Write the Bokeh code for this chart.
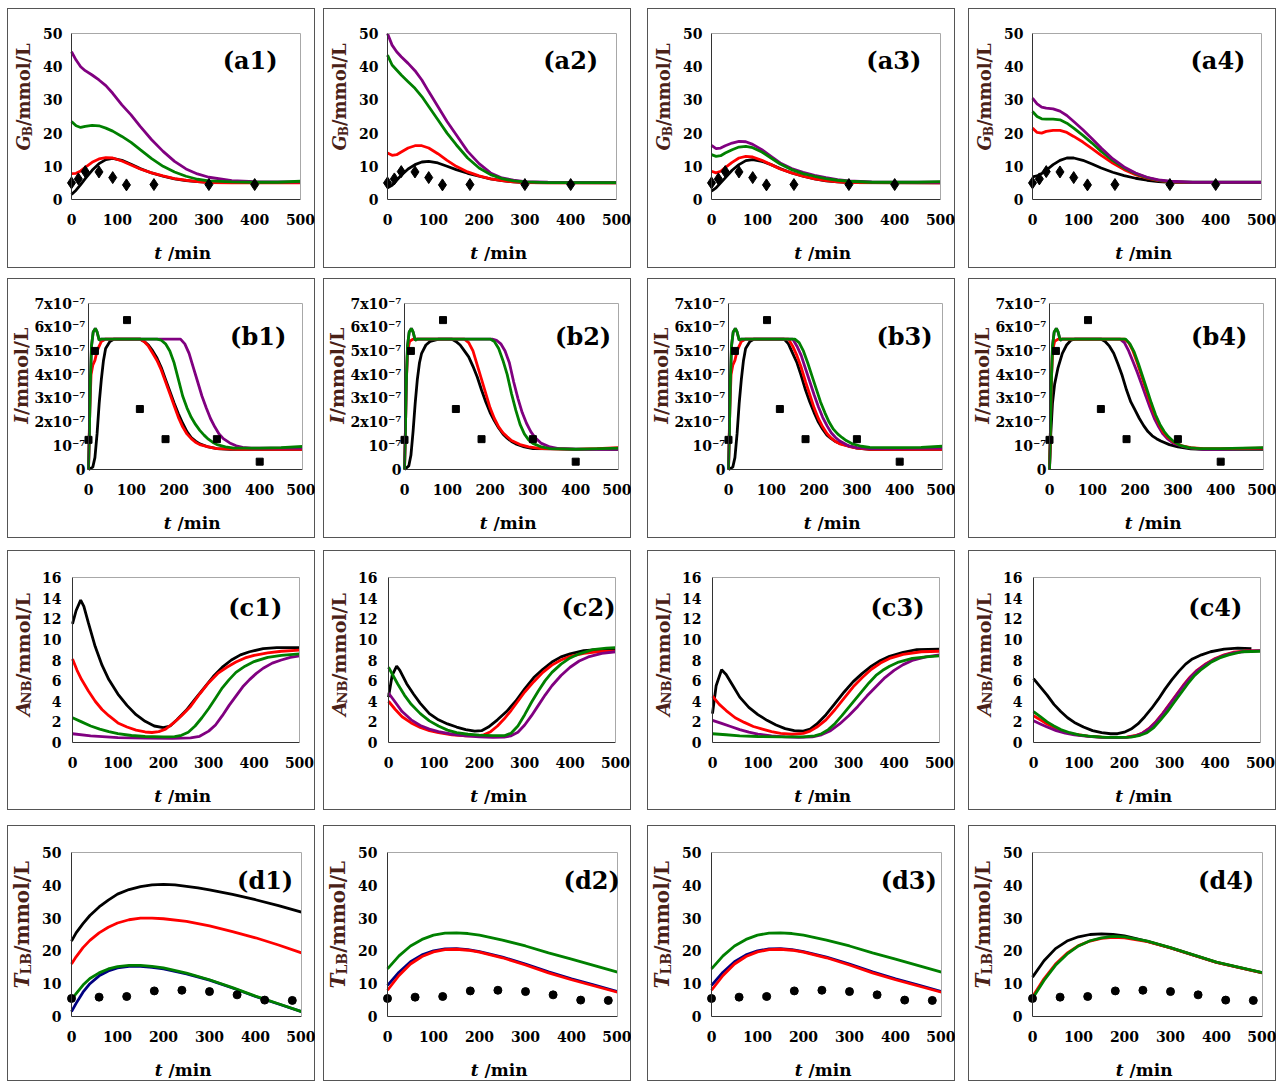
from math import pi
from bokeh.plotting import figure
from bokeh.layouts import column, row
from bokeh.models import Label, FixedTicker, Range1d, LinearAxis
from bokeh.embed import file_html
from bokeh.resources import INLINE

# ------------------------------------------------------------------ data
x_ticks = [0, 100, 200, 300, 400, 500]

# experimental points
glucose_t = [0, 15, 30, 60, 90, 120, 180, 300, 400]
glucose_obs = [5.0, 6.2, 8.4, 8.3, 6.6, 4.4, 4.5, 4.5, 4.5]
insulin_t = [0, 15, 90, 120, 180, 300, 400]
insulin_obs = [1.25, 5.0, 6.3, 2.55, 1.28, 1.28, 0.33]      # units of 1e-7 mmol/L
tlb_t = [0, 60, 120, 180, 240, 300, 360, 420, 480]
tlb_obs = [5.5, 5.9, 6.1, 7.8, 8.0, 7.6, 6.6, 5.0, 4.9]

# ---- row a : G_B (mmol/L), curves as (t, value)
a1_black = [(0,1.5),(10,2.8),(20,4.5),(30,6.3),(45,8.8),(60,10.8),(75,12.0),(90,12.4),(110,11.8),(130,10.6),(150,9.3),(175,8.0),(200,7.0),(225,6.2),(250,5.7),(275,5.4),(300,5.2),(350,5.1),(500,5.1)]
a1_red = [(0,7.8),(10,7.9),(20,8.6),(30,9.7),(45,11.2),(60,12.2),(75,12.6),(90,12.5),(110,11.6),(130,10.4),(150,9.2),(175,8.0),(200,7.1),(225,6.3),(250,5.8),(275,5.4),(300,5.1),(350,5.0),(500,5.0)]
a1_purple = [(0,44.5),(10,42.0),(20,40.0),(30,38.8),(45,37.5),(60,36.0),(75,34.3),(90,32.0),(110,28.5),(130,25.5),(150,22.0),(175,18.0),(200,14.5),(225,11.5),(250,9.2),(275,7.7),(300,6.7),(350,5.7),(400,5.4),(500,5.3)]
a1_green = [(0,23.5),(10,22.2),(20,21.7),(30,22.0),(45,22.3),(60,22.2),(75,21.5),(90,20.6),(110,19.0),(130,17.2),(150,15.0),(175,12.3),(200,10.0),(225,8.3),(250,7.0),(275,6.1),(300,5.6),(350,5.3),(400,5.2),(450,5.2),(500,5.5)]

a2_black = [(0,3.5),(10,4.3),(20,5.8),(30,7.3),(45,9.2),(60,10.5),(75,11.3),(90,11.5),(110,11.0),(130,10.0),(150,9.0),(175,7.9),(200,7.0),(225,6.2),(250,5.7),(275,5.3),(300,5.1),(500,5.0)]
a2_red = [(0,14.0),(10,13.3),(20,13.5),(30,14.3),(45,15.5),(60,16.2),(75,16.2),(90,15.5),(110,13.8),(130,11.8),(150,10.0),(175,8.3),(200,7.1),(225,6.2),(250,5.7),(275,5.3),(300,5.1),(350,5.0),(500,5.0)]
a2_purple = [(0,50.0),(10,46.5),(20,44.5),(30,43.0),(45,41.0),(60,38.8),(75,36.0),(90,32.5),(110,28.0),(130,23.5),(150,19.5),(175,14.5),(200,10.8),(225,8.0),(250,6.5),(275,5.8),(300,5.4),(350,5.2),(500,5.1)]
a2_green = [(0,43.5),(10,40.5),(20,39.0),(30,37.5),(45,35.5),(60,33.5),(75,31.0),(90,28.0),(110,24.0),(130,20.0),(150,16.5),(175,12.5),(200,9.5),(225,7.5),(250,6.3),(275,5.6),(300,5.3),(350,5.1),(500,5.1)]

a3_black = [(0,2.5),(10,3.5),(20,5.0),(30,6.5),(45,8.8),(60,10.5),(75,11.7),(90,12.0),(110,11.5),(130,10.5),(150,9.3),(175,8.0),(200,7.0),(225,6.2),(250,5.6),(275,5.3),(300,5.1),(500,5.0)]
a3_red = [(0,8.5),(10,8.0),(20,8.5),(30,9.6),(45,11.2),(60,12.5),(75,13.0),(90,12.8),(110,11.8),(130,10.5),(150,9.2),(175,8.0),(200,7.0),(225,6.2),(250,5.7),(275,5.3),(300,5.1),(500,5.0)]
a3_purple = [(0,16.3),(10,15.3),(20,15.5),(30,16.2),(45,17.0),(60,17.5),(75,17.4),(90,16.6),(110,15.0),(130,13.0),(150,11.0),(175,9.3),(200,8.2),(225,7.3),(250,6.6),(275,6.0),(300,5.6),(350,5.3),(500,5.2)]
a3_green = [(0,13.5),(10,13.0),(20,13.2),(30,14.0),(45,15.0),(60,15.8),(75,16.0),(90,15.6),(110,14.3),(130,12.5),(150,10.7),(175,9.0),(200,7.8),(225,7.0),(250,6.3),(275,5.8),(300,5.5),(350,5.2),(450,5.2),(500,5.4)]

a4_black = [(0,6.8),(10,7.1),(20,7.8),(30,8.8),(45,10.5),(60,11.8),(75,12.5),(90,12.5),(110,11.8),(130,10.7),(150,9.5),(175,8.2),(200,7.2),(225,6.4),(250,5.8),(275,5.4),(300,5.2),(500,5.1)]
a4_red = [(0,21.5),(10,20.2),(20,20.0),(30,20.5),(45,20.8),(60,20.8),(75,20.2),(90,19.0),(110,17.3),(130,15.3),(150,13.3),(175,11.0),(200,9.0),(225,7.5),(250,6.4),(275,5.7),(300,5.3),(350,5.1),(500,5.1)]
a4_purple = [(0,30.5),(10,28.8),(20,27.8),(30,27.5),(45,27.3),(60,26.6),(75,25.3),(90,23.5),(110,21.0),(130,18.3),(150,15.5),(175,12.3),(200,9.8),(225,8.0),(250,6.7),(275,5.9),(300,5.5),(350,5.2),(500,5.2)]
a4_green = [(0,26.5),(10,25.0),(20,24.3),(30,24.2),(45,24.2),(60,24.0),(75,23.0),(90,21.5),(110,19.3),(130,17.0),(150,14.5),(175,11.8),(200,9.5),(225,7.8),(250,6.6),(275,5.8),(300,5.4),(350,5.2),(500,5.2)]

# ---- row b : I (units of 1e-7 mmol/L)
b1_black = [(0,0),(10,0.1),(15,0.5),(20,1.5),(25,2.8),(30,3.8),(35,4.6),(40,5.1),(50,5.4),(60,5.5),(120,5.5),(130,5.4),(140,5.25),(150,5.0),(160,4.7),(170,4.3),(180,3.8),(190,3.3),(200,2.8),(210,2.35),(220,1.95),(230,1.6),(240,1.35),(250,1.2),(260,1.08),(280,0.95),(300,0.88),(330,0.85),(500,0.85)]
b1_red = [(0,0),(3,2.5),(6,4.0),(10,4.4),(15,4.6),(20,5.0),(30,5.4),(40,5.5),(120,5.5),(130,5.4),(140,5.2),(150,4.9),(160,4.6),(170,4.2),(180,3.7),(190,3.2),(200,2.7),(210,2.2),(220,1.8),(230,1.5),(240,1.3),(250,1.15),(260,1.05),(280,0.95),(300,0.88),(350,0.85),(500,0.85)]
b1_purple = [(0,0),(2,1.5),(4,3.5),(7,5.2),(11,5.8),(16,5.95),(20,5.8),(25,5.45),(30,5.5),(215,5.5),(225,5.3),(235,4.9),(245,4.3),(255,3.7),(265,3.1),(275,2.6),(285,2.15),(295,1.8),(305,1.5),(315,1.3),(330,1.12),(345,1.0),(360,0.93),(380,0.9),(500,0.9)]
b1_green = [(0,0),(2,1.5),(4,3.5),(7,5.2),(11,5.8),(16,5.95),(20,5.8),(25,5.45),(30,5.5),(160,5.5),(170,5.45),(180,5.3),(190,5.0),(200,4.5),(210,3.8),(220,3.1),(230,2.6),(240,2.2),(250,1.9),(260,1.65),(270,1.45),(280,1.28),(290,1.15),(300,1.05),(320,0.95),(340,0.9),(400,0.9),(450,0.92),(500,0.97)]

b2_black = [(0,0),(10,0.15),(15,0.6),(20,1.6),(25,2.8),(30,3.8),(35,4.5),(40,4.9),(50,5.25),(60,5.4),(80,5.5),(110,5.5),(120,5.4),(130,5.25),(140,5.0),(150,4.75),(160,4.35),(170,3.9),(180,3.35),(190,2.85),(200,2.4),(210,2.05),(220,1.75),(230,1.5),(240,1.32),(250,1.18),(260,1.08),(280,0.95),(300,0.88),(500,0.85)]
b2_red = [(0,0),(2,1.5),(4,3.5),(7,5.0),(12,5.4),(20,5.5),(140,5.5),(150,5.35),(160,5.0),(170,4.4),(180,3.8),(190,3.2),(200,2.6),(210,2.15),(220,1.8),(230,1.55),(240,1.38),(250,1.22),(270,1.05),(290,0.95),(320,0.88),(400,0.85),(450,0.88),(500,0.92)]
b2_purple = [(0,0),(2,1.5),(4,3.5),(7,5.2),(11,5.8),(16,5.95),(20,5.8),(25,5.45),(30,5.5),(205,5.5),(215,5.45),(225,5.3),(235,5.0),(245,4.5),(255,3.7),(265,3.0),(275,2.4),(285,1.95),(295,1.6),(305,1.35),(320,1.1),(340,0.95),(360,0.88),(400,0.85),(500,0.85)]
b2_green = [(0,0),(2,1.5),(4,3.5),(7,5.2),(11,5.8),(16,5.95),(20,5.8),(25,5.45),(30,5.5),(200,5.5),(210,5.4),(220,5.1),(230,4.6),(240,4.0),(250,3.2),(260,2.5),(270,1.9),(280,1.5),(290,1.25),(300,1.1),(320,0.95),(340,0.88),(400,0.85),(500,0.9)]

b3_black = [(0,0),(10,0.1),(15,0.5),(20,1.5),(25,2.8),(30,3.8),(35,4.6),(40,5.1),(50,5.4),(60,5.5),(130,5.5),(140,5.3),(150,4.9),(160,4.5),(170,3.95),(180,3.35),(190,2.85),(200,2.4),(210,2.0),(220,1.7),(230,1.45),(240,1.3),(250,1.18),(260,1.1),(280,1.0),(300,0.9),(330,0.85),(500,0.85)]
b3_red = [(0,0),(3,2.5),(6,4.0),(10,4.4),(15,4.6),(20,5.0),(30,5.4),(40,5.5),(140,5.5),(150,5.2),(160,4.8),(170,4.3),(180,3.7),(190,3.15),(200,2.6),(210,2.15),(220,1.8),(230,1.52),(240,1.32),(250,1.18),(260,1.08),(280,0.98),(300,0.9),(330,0.85),(500,0.85)]
b3_purple = [(0,0),(2,1.5),(4,3.5),(7,5.2),(11,5.8),(16,5.95),(20,5.8),(25,5.45),(30,5.5),(150,5.5),(160,5.2),(170,4.8),(180,4.25),(190,3.7),(200,3.15),(210,2.65),(220,2.2),(230,1.85),(240,1.55),(250,1.35),(260,1.2),(280,1.0),(300,0.92),(330,0.88),(500,0.9)]
b3_green = [(0,0),(2,1.5),(4,3.5),(7,5.2),(11,5.8),(16,5.95),(20,5.8),(25,5.45),(30,5.5),(155,5.5),(165,5.35),(175,5.0),(185,4.5),(195,3.95),(205,3.4),(215,2.85),(225,2.4),(235,2.0),(245,1.7),(255,1.5),(265,1.35),(275,1.22),(290,1.08),(310,0.98),(330,0.93),(400,0.92),(450,0.93),(500,0.98)]

b4_black = [(0,0),(3,1.5),(7,2.8),(12,3.6),(20,4.3),(30,4.9),(40,5.25),(50,5.45),(60,5.5),(120,5.5),(130,5.4),(140,5.2),(150,4.9),(160,4.45),(170,3.95),(180,3.35),(190,2.85),(200,2.5),(210,2.15),(220,1.85),(230,1.6),(240,1.42),(250,1.3),(260,1.2),(280,1.05),(300,0.95),(330,0.87),(360,0.85),(500,0.85)]
b4_red = [(0,0),(2,1.5),(4,3.5),(7,5.0),(12,5.4),(20,5.5),(175,5.5),(185,5.35),(195,5.0),(205,4.5),(215,3.95),(225,3.4),(235,2.85),(245,2.35),(255,1.95),(265,1.6),(275,1.38),(290,1.15),(310,1.0),(330,0.92),(360,0.88),(400,0.88),(500,0.9)]
b4_purple = [(0,0),(2,1.5),(4,3.5),(7,5.2),(11,5.8),(16,5.95),(20,5.8),(25,5.45),(30,5.5),(165,5.5),(175,5.35),(185,5.0),(195,4.55),(205,4.1),(215,3.6),(225,3.1),(235,2.6),(245,2.15),(255,1.8),(265,1.5),(275,1.3),(290,1.1),(310,0.98),(330,0.9),(360,0.85),(400,0.85),(500,0.9)]
b4_green = [(0,0),(2,1.5),(4,3.5),(7,5.2),(11,5.8),(16,5.95),(20,5.8),(25,5.45),(30,5.5),(178,5.5),(188,5.3),(198,4.95),(208,4.45),(218,3.9),(228,3.35),(238,2.8),(248,2.3),(258,1.9),(268,1.6),(278,1.38),(290,1.18),(305,1.02),(325,0.92),(350,0.88),(400,0.88),(450,0.9),(500,0.92)]

# ---- row c : A_NB (mmol/L)
c1_black = [(0,11.5),(8,12.8),(18,13.8),(25,13.2),(35,11.6),(50,9.3),(65,7.5),(80,6.1),(100,4.7),(120,3.6),(140,2.7),(160,2.05),(180,1.6),(200,1.45),(215,1.6),(230,2.2),(250,3.1),(270,4.2),(290,5.3),(310,6.4),(330,7.3),(350,8.0),(370,8.5),(390,8.8),(420,9.1),(450,9.2),(500,9.2)]
c1_red = [(0,8.1),(10,7.0),(20,6.1),(35,5.0),(50,4.0),(65,3.2),(80,2.6),(100,1.9),(120,1.5),(140,1.2),(160,1.02),(175,0.97),(190,1.05),(205,1.3),(220,1.8),(240,2.6),(260,3.5),(280,4.7),(300,5.8),(320,6.7),(340,7.3),(360,7.8),(380,8.2),(400,8.45),(430,8.7),(460,8.85),(500,8.95)]
c1_purple = [(0,0.85),(40,0.65),(100,0.48),(160,0.42),(220,0.4),(260,0.45),(280,0.6),(300,1.1),(315,1.7),(330,2.6),(345,3.6),(360,4.5),(375,5.4),(390,6.1),(405,6.7),(420,7.2),(440,7.7),(460,8.0),(480,8.25),(500,8.4)]
c1_green = [(0,2.4),(20,2.0),(40,1.6),(60,1.3),(80,1.05),(100,0.85),(130,0.68),(160,0.58),(200,0.55),(225,0.56),(240,0.7),(255,1.0),(270,1.6),(285,2.4),(300,3.3),(315,4.3),(330,5.3),(345,6.1),(360,6.8),(380,7.4),(400,7.85),(430,8.25),(460,8.45),(500,8.6)]

c2_black = [(0,4.4),(8,6.5),(18,7.4),(25,7.0),(40,5.7),(55,4.7),(70,3.8),(90,2.8),(110,2.2),(130,1.8),(150,1.5),(170,1.25),(190,1.1),(205,1.15),(220,1.5),(240,2.2),(260,3.0),(280,4.0),(300,5.2),(320,6.3),(340,7.1),(360,7.8),(380,8.3),(400,8.6),(430,8.9),(460,9.0),(500,9.0)]
c2_red = [(0,4.0),(15,3.2),(30,2.5),(50,1.9),(70,1.45),(90,1.15),(110,0.95),(140,0.75),(170,0.65),(195,0.65),(210,0.75),(225,1.05),(240,1.6),(255,2.3),(270,3.1),(285,4.0),(300,4.9),(320,5.9),(340,6.8),(360,7.5),(380,8.0),(400,8.35),(430,8.65),(460,8.8),(500,8.85)]
c2_purple = [(0,4.8),(15,3.9),(30,3.0),(50,2.2),(70,1.65),(90,1.3),(110,1.05),(140,0.8),(170,0.65),(200,0.55),(230,0.5),(255,0.52),(270,0.65),(285,1.0),(300,1.7),(315,2.6),(330,3.6),(345,4.6),(360,5.5),(380,6.5),(400,7.3),(420,7.9),(440,8.3),(470,8.65),(500,8.8)]
c2_green = [(0,7.3),(10,6.5),(20,5.7),(35,4.6),(50,3.7),(70,2.8),(90,2.1),(110,1.6),(130,1.2),(150,0.95),(175,0.8),(200,0.72),(230,0.66),(255,0.66),(270,0.9),(285,1.6),(300,2.7),(315,3.9),(330,5.0),(345,6.0),(360,6.8),(380,7.6),(400,8.2),(420,8.6),(450,9.0),(480,9.15),(500,9.2)]

c3_black = [(0,2.8),(8,5.5),(20,7.05),(30,6.6),(45,5.5),(60,4.4),(80,3.4),(100,2.7),(120,2.15),(140,1.7),(160,1.35),(180,1.15),(200,1.1),(215,1.3),(230,1.8),(250,2.7),(270,3.8),(290,4.9),(310,5.9),(330,6.7),(350,7.4),(370,7.95),(390,8.35),(420,8.75),(450,9.0),(500,9.05)]
c3_red = [(0,4.5),(15,3.7),(30,3.1),(50,2.4),(70,1.95),(90,1.55),(110,1.3),(130,1.05),(150,0.88),(175,0.8),(200,0.88),(215,1.1),(230,1.5),(250,2.2),(270,3.2),(290,4.3),(310,5.4),(330,6.3),(350,7.1),(370,7.7),(390,8.15),(420,8.55),(460,8.8),(500,8.85)]
c3_purple = [(0,2.15),(20,1.85),(40,1.55),(60,1.25),(80,1.0),(100,0.82),(130,0.65),(160,0.55),(190,0.5),(220,0.55),(240,0.75),(260,1.15),(280,1.8),(300,2.6),(320,3.5),(340,4.5),(360,5.4),(380,6.3),(400,7.0),(420,7.55),(440,7.95),(470,8.3),(500,8.5)]
c3_green = [(0,0.85),(30,0.75),(60,0.65),(100,0.58),(150,0.55),(200,0.55),(225,0.65),(240,0.85),(255,1.25),(270,1.85),(285,2.6),(300,3.4),(315,4.2),(330,5.0),(345,5.8),(360,6.5),(375,7.0),(390,7.4),(410,7.8),(440,8.15),(470,8.3),(500,8.4)]

c4_black = [(0,6.2),(15,5.4),(30,4.6),(45,3.7),(60,3.0),(75,2.4),(90,1.95),(110,1.5),(130,1.15),(150,0.95),(170,0.85),(185,0.85),(200,1.0),(215,1.3),(230,1.8),(245,2.5),(260,3.3),(275,4.2),(290,5.2),(305,6.1),(320,6.9),(335,7.6),(350,8.1),(370,8.5),(390,8.8),(420,9.05),(450,9.15),(480,9.1)]
c4_red = [(0,2.6),(15,2.2),(30,1.8),(50,1.35),(70,1.0),(90,0.8),(120,0.62),(150,0.52),(180,0.5),(205,0.52),(225,0.68),(240,0.92),(255,1.38),(270,2.05),(285,2.85),(300,3.75),(315,4.65),(330,5.55),(345,6.35),(360,7.0),(380,7.65),(400,8.15),(420,8.5),(440,8.75),(470,8.88),(500,8.9)]
c4_purple = [(0,2.1),(15,1.8),(30,1.5),(50,1.15),(70,0.9),(90,0.75),(120,0.6),(150,0.5),(180,0.48),(205,0.5),(225,0.65),(240,0.9),(255,1.35),(270,2.0),(285,2.8),(300,3.7),(315,4.6),(330,5.5),(345,6.3),(360,6.95),(380,7.6),(400,8.1),(420,8.45),(440,8.7),(470,8.85),(500,8.9)]
c4_green = [(0,3.0),(15,2.5),(30,2.0),(45,1.6),(60,1.25),(80,0.95),(100,0.75),(130,0.58),(160,0.5),(190,0.5),(215,0.52),(235,0.7),(250,0.95),(265,1.45),(280,2.2),(295,3.0),(310,3.9),(325,4.8),(340,5.7),(355,6.5),(370,7.1),(390,7.75),(410,8.2),(430,8.5),(460,8.8),(500,8.85)]

# ---- row d : T_LB (mmol/L)
d1_black = [(0,23.0),(10,25.5),(25,28.3),(40,30.8),(60,33.4),(80,35.5),(100,37.3),(125,38.7),(150,39.6),(175,40.1),(200,40.3),(225,40.1),(250,39.7),(275,39.2),(300,38.6),(350,37.2),(400,35.6),(450,33.8),(500,31.8)]
d1_red = [(0,16.0),(10,18.2),(25,21.0),(40,23.2),(60,25.5),(80,27.2),(100,28.5),(125,29.5),(150,30.0),(175,30.0),(200,29.8),(250,29.0),(300,27.6),(350,25.9),(400,24.0),(450,21.8),(500,19.4)]
d1_blue = [(0,1.5),(10,4.0),(25,7.4),(40,10.0),(60,12.4),(80,13.9),(100,14.8),(125,15.3),(150,15.3),(175,15.0),(200,14.5),(250,13.0),(300,11.1),(350,8.7),(400,6.1),(450,3.8),(500,1.5)]
d1_green = [(0,5.0),(10,7.0),(25,9.6),(40,11.6),(60,13.3),(80,14.5),(100,15.2),(125,15.6),(150,15.6),(175,15.3),(200,14.8),(250,13.2),(300,11.2),(350,8.8),(400,6.2),(450,3.9),(500,1.5)]

d2_blue = [(0,9.5),(25,13.5),(50,16.7),(75,18.8),(100,20.0),(125,20.6),(150,20.7),(175,20.4),(200,19.8),(250,18.1),(300,16.0),(350,13.6),(400,11.5),(450,9.6),(500,7.6)]
d2_red = [(0,8.0),(25,12.5),(50,16.0),(75,18.3),(100,19.7),(125,20.4),(150,20.5),(175,20.2),(200,19.6),(250,17.9),(300,15.7),(350,13.3),(400,11.2),(450,9.3),(500,7.4)]
d2_green = [(0,14.5),(25,18.5),(50,21.5),(75,23.5),(100,24.8),(125,25.4),(150,25.5),(175,25.3),(200,24.8),(250,23.3),(300,21.5),(350,19.4),(400,17.5),(450,15.5),(500,13.5)]

d3_blue = [(0,9.5),(25,13.5),(50,16.7),(75,18.8),(100,20.0),(125,20.6),(150,20.7),(175,20.4),(200,19.8),(250,18.1),(300,16.0),(350,13.6),(400,11.5),(450,9.6),(500,7.6)]
d3_red = [(0,8.0),(25,12.5),(50,16.0),(75,18.3),(100,19.7),(125,20.4),(150,20.5),(175,20.2),(200,19.6),(250,17.9),(300,15.7),(350,13.3),(400,11.2),(450,9.3),(500,7.4)]
d3_green = [(0,14.5),(25,18.5),(50,21.5),(75,23.5),(100,24.8),(125,25.4),(150,25.5),(175,25.3),(200,24.8),(250,23.3),(300,21.5),(350,19.4),(400,17.5),(450,15.5),(500,13.5)]

d4_black = [(0,12.0),(25,17.0),(50,20.7),(75,23.0),(100,24.3),(125,25.0),(150,25.2),(175,25.0),(200,24.6),(250,22.9),(300,20.9),(350,18.7),(400,16.5),(450,14.9),(500,13.3)]
d4_red = [(0,6.0),(25,11.5),(50,16.0),(75,19.3),(100,21.6),(125,23.0),(150,23.8),(175,24.1),(200,24.0),(250,22.8),(300,20.9),(350,18.7),(400,16.5),(450,14.9),(500,13.3)]
d4_green = [(0,5.5),(25,11.0),(50,15.6),(75,19.0),(100,21.5),(125,23.1),(150,24.0),(175,24.4),(200,24.3),(250,23.0),(300,21.0),(350,18.8),(400,16.6),(450,15.0),(500,13.4)]

panel_names = [["(a1)", "(a2)", "(a3)", "(a4)"],
               ["(b1)", "(b2)", "(b3)", "(b4)"],
               ["(c1)", "(c2)", "(c3)", "(c4)"],
               ["(d1)", "(d2)", "(d3)", "(d4)"]]

b_tick_labels = ["0", "10⁻⁷", "2x10⁻⁷", "3x10⁻⁷", "4x10⁻⁷", "5x10⁻⁷", "6x10⁻⁷", "7x10⁻⁷"]

# ------------------------------------------------------------------ styling / layout
BLACK, RED, GREEN, PURPLE, NAVY = "#000000", "#ff0000", "#008000", "#800080", "#000080"
FONT = "DejaVu Serif"
YLAB_COLOR = "#4a2117"

panel_curves = [
    [[(a1_black, BLACK), (a1_red, RED), (a1_purple, PURPLE), (a1_green, GREEN)],
     [(a2_black, BLACK), (a2_red, RED), (a2_purple, PURPLE), (a2_green, GREEN)],
     [(a3_black, BLACK), (a3_red, RED), (a3_purple, PURPLE), (a3_green, GREEN)],
     [(a4_black, BLACK), (a4_red, RED), (a4_green, GREEN), (a4_purple, PURPLE)]],
    [[(b1_black, BLACK), (b1_red, RED), (b1_purple, PURPLE), (b1_green, GREEN)],
     [(b2_black, BLACK), (b2_red, RED), (b2_purple, PURPLE), (b2_green, GREEN)],
     [(b3_black, BLACK), (b3_red, RED), (b3_purple, PURPLE), (b3_green, GREEN)],
     [(b4_black, BLACK), (b4_purple, PURPLE), (b4_red, RED), (b4_green, GREEN)]],
    [[(c1_black, BLACK), (c1_red, RED), (c1_purple, PURPLE), (c1_green, GREEN)],
     [(c2_black, BLACK), (c2_red, RED), (c2_purple, PURPLE), (c2_green, GREEN)],
     [(c3_black, BLACK), (c3_red, RED), (c3_purple, PURPLE), (c3_green, GREEN)],
     [(c4_black, BLACK), (c4_red, RED), (c4_purple, PURPLE), (c4_green, GREEN)]],
    [[(d1_black, BLACK), (d1_red, RED), (d1_blue, NAVY), (d1_green, GREEN)],
     [(d2_blue, NAVY), (d2_red, RED), (d2_green, GREEN)],
     [(d3_blue, NAVY), (d3_red, RED), (d3_green, GREEN)],
     [(d4_black, BLACK), (d4_red, RED), (d4_green, GREEN)]],
]

row_obs = [(glucose_t, glucose_obs, "diamond", 12),
           (insulin_t, insulin_obs, "square", 7),
           None,
           (tlb_t, tlb_obs, "circle", 8)]

ROWCFG = [
    dict(fig_h=260, top=25, fh=166, left=64, fw=229, ymax=50, yticks=[0, 10, 20, 30, 40, 50],
         ystand=9, ylab=("G", "B", "/mmol/L"), ylab_size=18, ylab_c=63, ylab_x=-48,
         lab_x=[450, 460, 458, 465], lab_y=46.3),
    dict(fig_h=260, top=25, fh=166, left=81, fw=214, ymax=7, yticks=list(range(8)),
         ystand=3, ylab=("I", "", "/mmol/L"), ylab_size=19, ylab_c=72, ylab_x=-68,
         lab_x=[462, 483, 477, 462], lab_y=6.2),
    dict(fig_h=260, top=27, fh=165, left=65, fw=227, ymax=16, yticks=list(range(0, 17, 2)),
         ystand=11, ylab=("A", "NB", "/mmol/L"), ylab_size=19, ylab_c=77, ylab_x=-50,
         lab_x=[462, 500, 467, 460], lab_y=14.5),
    dict(fig_h=256, top=27, fh=164, left=64, fw=230, ymax=50, yticks=[0, 10, 20, 30, 40, 50],
         ystand=10, ylab=("T", "LB", "/mmol/L"), ylab_size=20, ylab_c=72, ylab_x=-50,
         lab_x=[482, 505, 490, 482], lab_y=46.0),
]
FIG_W = 308
ROW_MARGIN = [8, 10, 12, 15]
COL_MARGIN = [7, 8, 16, 13]

BW = {"/": 0.365, "m": 1.042, "o": 0.687, "l": 0.371, "L": 0.733, "B": 0.759, "N": 0.843,
      "G": 0.82, "A": 0.77, "T": 0.73, "I": 0.45, " ": 0.348, "i": 0.371, "n": 0.712, "t": 0.48}


def tw(s, size):
    return sum(BW.get(ch, 0.7) for ch in s) * size


def styled_axis(ax, visible_labels=True):
    ax.axis_line_width = 1
    ax.major_tick_in = 0
    ax.major_tick_out = 0
    ax.minor_tick_line_color = None
    ax.major_label_text_font = FONT
    ax.major_label_text_font_style = "bold"
    ax.major_label_text_font_size = "14px" if visible_labels else "0px"
    ax.major_label_text_color = "black"


def make_panel(r, c):
    cfg = ROWCFG[r]
    ymax = cfg["ymax"]
    fh, fw = cfg["fh"], cfg["fw"]
    left, top, H = cfg["left"], cfg["top"], cfg["fig_h"]
    kx = 500.0 / fw          # data per pixel (x)
    ky = ymax / fh           # data per pixel (y)
    # the plotting frame fills the whole panel; the axes are pinned at t=0 / y=0
    p = figure(width=FIG_W, height=H,
               x_range=Range1d(-left * kx, 500 + (FIG_W - left - fw) * kx),
               y_range=Range1d(-(H - top - fh) * ky, ymax + top * ky),
               output_backend="svg", toolbar_location=None,
               x_axis_location=None, y_axis_location=None, min_border=0,
               margin=(ROW_MARGIN[r], 0, 0, COL_MARGIN[c]))
    p.styles = {"box-shadow": "inset 0 0 0 1px #555555", "background-color": "white"}
    p.xgrid.visible = False
    p.ygrid.visible = False
    p.outline_line_color = None
    p.background_fill_color = None
    p.border_fill_color = None

    xa = LinearAxis(fixed_location=0, bounds=(0, 500), ticker=FixedTicker(ticks=x_ticks))
    styled_axis(xa)
    xa.axis_line_color = "#333333"
    xa.major_label_standoff = 14
    ya = LinearAxis(fixed_location=0, bounds=(0, ymax), ticker=FixedTicker(ticks=cfg["yticks"]))
    styled_axis(ya)
    ya.axis_line_color = "#333333"
    ya.major_label_standoff = cfg["ystand"]
    if r == 1:
        ya.major_label_overrides = {i: b_tick_labels[i] for i in range(8)}
    ta = LinearAxis(fixed_location=ymax, bounds=(0, 500), ticker=FixedTicker(ticks=[]))
    styled_axis(ta, False)
    ta.axis_line_color = "#a8a8a8"
    ra = LinearAxis(fixed_location=500, bounds=(0, ymax), ticker=FixedTicker(ticks=[]))
    styled_axis(ra, False)
    ra.axis_line_color = "#a8a8a8"
    p.add_layout(ta, "above")
    p.add_layout(ra, "right")
    p.add_layout(xa, "below")
    p.add_layout(ya, "left")

    for curve, color in panel_curves[r][c]:
        p.line([q[0] for q in curve], [q[1] for q in curve], line_color=color, line_width=2.8)

    if row_obs[r] is not None:
        t, v, mk, sz = row_obs[r]
        p.scatter(t, v, marker=mk, size=sz, color="black")

    # panel tag
    p.add_layout(Label(x=cfg["lab_x"][c], y=cfg["lab_y"], text=panel_names[r][c], text_align="right",
                       text_baseline="top", text_font=FONT, text_font_style="bold",
                       text_font_size="24px", text_color="black"))

    # y-axis label: italic symbol + subscript + unit
    main, sub, rest = cfg["ylab"]
    size = cfg["ylab_size"]
    subsize = round(size * 0.68)
    wm, ws, wr = tw(main, size), tw(sub, subsize), tw(rest, size)
    total = wm + ws + wr
    bottom_px = cfg["ylab_c"] + total / 2.0
    joint_px = bottom_px - wm - ws
    y_joint = ymax - joint_px * ky
    y_main_end = ymax - (joint_px + ws) * ky
    xl = cfg["ylab_x"] * kx
    common = dict(angle=pi / 2, text_baseline="middle", text_font=FONT, text_color=YLAB_COLOR)
    p.add_layout(Label(x=xl, y=y_main_end, text=main, text_align="right",
                       text_font_style="bold italic", text_font_size=f"{size}px", **common))
    if sub:
        p.add_layout(Label(x=xl + 4 * kx, y=y_joint, text=sub, text_align="right",
                           text_font_style="bold", text_font_size=f"{subsize}px", **common))
    p.add_layout(Label(x=xl, y=y_joint, text=rest, text_align="left",
                       text_font_style="bold", text_font_size=f"{size}px", **common))

    # x-axis label: "t /min"
    xj = (fw / 2.0 - 24) * kx
    yb = -53.0 * ky
    p.add_layout(Label(x=xj, y=yb, text="t", text_align="right", text_baseline="middle",
                       text_font=FONT, text_font_style="bold italic", text_font_size="17px",
                       text_color="black"))
    p.add_layout(Label(x=xj + 6 * kx, y=yb, text="/min", text_align="left", text_baseline="middle",
                       text_font=FONT, text_font_style="bold", text_font_size="17px",
                       text_color="black"))
    return p


rows = []
for r in range(4):
    rows.append(row([make_panel(r, c) for c in range(4)], spacing=0))
layout = column(rows, spacing=0)

open("out.html", "w").write(file_html(layout, INLINE))
